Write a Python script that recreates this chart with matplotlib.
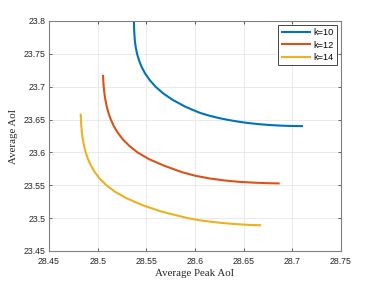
import matplotlib
matplotlib.use("Agg")
import matplotlib.pyplot as plt

# Data
k10_x = [28.5373, 28.5374, 28.5377, 28.5382, 28.5391, 28.5405, 28.5425, 28.5452, 28.5488, 28.5535,
         28.5595, 28.5672, 28.5770, 28.5895, 28.5972, 28.6055, 28.615, 28.625, 28.635, 28.645,
         28.655, 28.665, 28.675, 28.685, 28.695, 28.711]
k10_y = [23.800, 23.790, 23.780, 23.770, 23.760, 23.750, 23.740, 23.730, 23.720, 23.710,
         23.700, 23.690, 23.680, 23.670, 23.665, 23.660, 23.6558, 23.6522, 23.6492, 23.6467,
         23.6447, 23.6431, 23.6419, 23.6410, 23.6404, 23.6400]

k12_x = [28.5055, 28.5057, 28.5062, 28.5069, 28.5079, 28.5093, 28.5111, 28.5135, 28.5166, 28.5206,
         28.5258, 28.5325, 28.5410, 28.5525, 28.5680, 28.5865, 28.600, 28.615, 28.630, 28.645,
         28.660, 28.675, 28.687]
k12_y = [23.718, 23.710, 23.700, 23.690, 23.680, 23.670, 23.660, 23.650, 23.640, 23.630,
         23.620, 23.610, 23.600, 23.590, 23.580, 23.570, 23.5646, 23.5604, 23.5574, 23.5553,
         23.5540, 23.5532, 23.5528]

k14_x = [28.4826, 28.4828, 28.4832, 28.4838, 28.4847, 28.4860, 28.4877, 28.4900, 28.4930, 28.4970,
         28.5022, 28.5090, 28.5180, 28.5300, 28.5455, 28.5655, 28.5925, 28.605, 28.618, 28.631,
         28.644, 28.656, 28.668]
k14_y = [23.659, 23.650, 23.640, 23.630, 23.620, 23.610, 23.600, 23.590, 23.580, 23.570,
         23.560, 23.550, 23.540, 23.530, 23.520, 23.510, 23.500, 23.4967, 23.4942, 23.4922,
         23.4907, 23.4897, 23.4891]

labels = ["k=10", "k=12", "k=14"]
colors = ["#0072BD", "#D95319", "#EDB120"]

xticks = [28.45, 28.5, 28.55, 28.6, 28.65, 28.7, 28.75]
yticks = [23.45, 23.5, 23.55, 23.6, 23.65, 23.7, 23.75, 23.8]

fig = plt.figure(figsize=(3.77, 2.83), dpi=100)
ax = fig.add_axes([0.130, 0.1131, 0.7745, 0.8127])

for xs, ys, lab, c in zip([k10_x, k12_x, k14_x], [k10_y, k12_y, k14_y], labels, colors):
    ax.plot(xs, ys, color=c, lw=1.5, label=lab, solid_capstyle="butt", solid_joinstyle="round")

ax.set_xlim(28.45, 28.75)
ax.set_ylim(23.45, 23.8)
ax.set_xticks(xticks)
ax.set_yticks(yticks)
ax.set_xticklabels([f"{v:g}" for v in xticks], fontfamily="Liberation Sans", fontsize=6.3, color="#262626")
ax.set_yticklabels([f"{v:g}" for v in yticks], fontfamily="Liberation Sans", fontsize=6.3, color="#262626")
ax.tick_params(direction="in", length=2.5, width=0.5, top=True, right=True, colors="#262626")
ax.tick_params(axis="x", pad=4)
ax.tick_params(axis="y", pad=2.5)
ax.grid(True, color="#e6e6e6", lw=0.6)
ax.set_axisbelow(True)
for s in ax.spines.values():
    s.set_color("#808080")
    s.set_linewidth(0.8)

ax.set_xlabel("Average Peak AoI", fontfamily="Liberation Serif", fontsize=7.8, color="#262626", labelpad=2.5)
ax.set_ylabel("Average AoI", fontfamily="Liberation Serif", fontsize=7.8, color="#262626", labelpad=4)

leg = ax.legend(loc="upper right", prop={"family": "Liberation Sans", "size": 6.6},
                handlelength=3.3, handletextpad=0.3, borderpad=0.35, labelspacing=0.4,
                fancybox=False, framealpha=1, edgecolor="#262626", borderaxespad=0.4)
leg.get_frame().set_linewidth(0.6)

fig.savefig("out.png", dpi=100)
